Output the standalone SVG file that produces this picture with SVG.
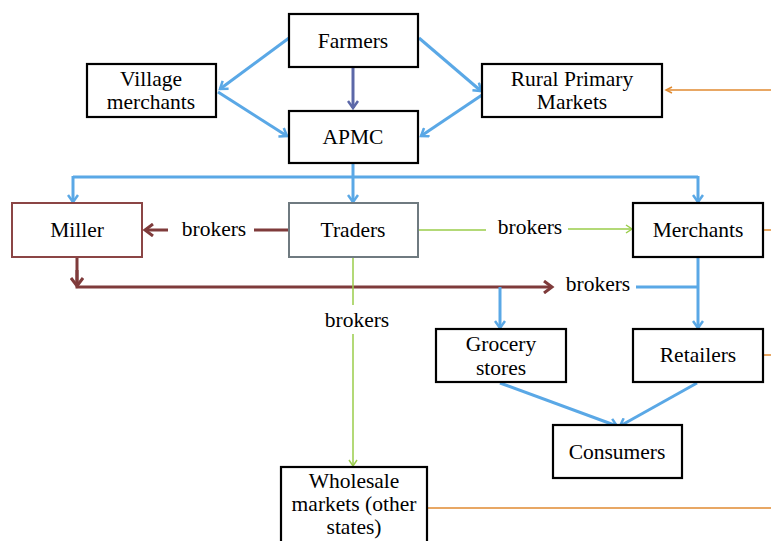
<svg xmlns="http://www.w3.org/2000/svg" width="771" height="541" viewBox="0 0 771 541">
<defs>
<marker id="ab" markerWidth="12" markerHeight="12" refX="9" refY="6" orient="auto" markerUnits="userSpaceOnUse"><path d="M2,1 L9,6 L2,11" fill="none" stroke="#5aa8e6" stroke-width="2.5"/></marker>
<marker id="ap" markerWidth="12" markerHeight="12" refX="9" refY="6" orient="auto" markerUnits="userSpaceOnUse"><path d="M2,1 L9,6 L2,11" fill="none" stroke="#5c68a8" stroke-width="2.5"/></marker>
<marker id="ar" markerWidth="14" markerHeight="14" refX="10" refY="7" orient="auto" markerUnits="userSpaceOnUse"><path d="M2,1 L10,7 L2,13" fill="none" stroke="#7f3b3b" stroke-width="3"/></marker>
<marker id="ag" markerWidth="12" markerHeight="12" refX="9" refY="6" orient="auto" markerUnits="userSpaceOnUse"><path d="M3,2 L9,6 L3,10" fill="none" stroke="#9acd4a" stroke-width="1.5"/></marker>
<marker id="ao" markerWidth="10" markerHeight="10" refX="8" refY="5" orient="auto" markerUnits="userSpaceOnUse"><path d="M2,2 L8,5 L2,8" fill="none" stroke="#e08a30" stroke-width="1.5"/></marker>
</defs>
<style>
.box{fill:#fff;stroke:#000;stroke-width:2.2}
.t{font-family:"Liberation Serif",serif;font-size:21.5px;fill:#000;text-anchor:middle}
.b{fill:none;stroke:#5aa8e6;stroke-width:3}
.r{fill:none;stroke:#7f3b3b;stroke-width:3}
.g{fill:none;stroke:#9acd4a;stroke-width:1.5}
.o{fill:none;stroke:#e08a30;stroke-width:1.5}
</style>
<rect width="771" height="541" fill="#fff"/>
<g id="connectors">
<line class="b" x1="289" y1="38" x2="220" y2="89" marker-end="url(#ab)"/>
<line class="b" x1="218" y1="92" x2="287" y2="136" marker-end="url(#ab)"/>
<line class="b" x1="419" y1="38" x2="481" y2="91" marker-end="url(#ab)"/>
<line class="b" x1="482" y1="95" x2="421" y2="136" marker-end="url(#ab)"/>
<line x1="353" y1="67" x2="353" y2="108" stroke="#5c68a8" stroke-width="3" marker-end="url(#ap)"/>
<line class="b" x1="353" y1="163" x2="353" y2="177"/>
<line class="b" x1="73" y1="177" x2="698" y2="177"/>
<line class="b" x1="73" y1="176" x2="73" y2="202" marker-end="url(#ab)"/>
<line class="b" x1="353" y1="176" x2="353" y2="202" marker-end="url(#ab)"/>
<line class="b" x1="698" y1="176" x2="698" y2="202" marker-end="url(#ab)"/>
<line class="r" x1="289" y1="230" x2="254" y2="230"/>
<line class="r" x1="168" y1="230" x2="145" y2="230" marker-end="url(#ar)"/>
<polyline class="r" points="77,258 77,287 552,287" marker-end="url(#ar)"/>
<line class="r" x1="77" y1="270" x2="77" y2="286" marker-end="url(#ar)"/>
<line class="g" x1="419" y1="230" x2="486" y2="230"/>
<line class="g" x1="568" y1="229" x2="632" y2="229" marker-end="url(#ag)"/>
<line class="g" x1="353" y1="258" x2="353" y2="305"/>
<line class="g" x1="353" y1="334" x2="353" y2="466" marker-end="url(#ag)"/>
<line class="b" x1="636" y1="287" x2="698" y2="287"/>
<line class="b" x1="698" y1="258" x2="698" y2="328" marker-end="url(#ab)"/>
<line class="b" x1="500" y1="287" x2="500" y2="328" marker-end="url(#ab)"/>
<line class="b" x1="500" y1="383" x2="617" y2="426" marker-end="url(#ab)"/>
<line class="b" x1="697" y1="383" x2="620" y2="426" marker-end="url(#ab)"/>
<line class="o" x1="771" y1="90" x2="666" y2="90" marker-end="url(#ao)"/>
<line class="o" x1="763" y1="230" x2="771" y2="230"/>
<line class="o" x1="763" y1="355" x2="771" y2="355"/>
<line class="o" x1="427" y1="508" x2="771" y2="508"/>
</g>
<g id="farmers"><rect class="box" x="289" y="14" width="129" height="53"/><text class="t" x="353" y="48">Farmers</text></g>
<g id="village"><rect class="box" x="87" y="64" width="129" height="53"/><text class="t" x="151" y="86">Village</text><text class="t" x="151" y="109">merchants</text></g>
<g id="rural"><rect class="box" x="482" y="64" width="180" height="53"/><text class="t" x="572" y="86">Rural Primary</text><text class="t" x="572" y="109">Markets</text></g>
<g id="apmc"><rect class="box" x="289" y="111" width="129" height="52"/><text class="t" x="353" y="144">APMC</text></g>
<g id="miller"><rect x="12" y="203" width="130" height="54" fill="#fff" stroke="#8b4545" stroke-width="2"/><text class="t" x="77" y="237">Miller</text></g>
<g id="traders"><rect x="289" y="203" width="129" height="54" fill="#fff" stroke="#6f7a80" stroke-width="2"/><text class="t" x="353" y="237">Traders</text></g>
<g id="merchants"><rect class="box" x="633" y="203" width="130" height="54"/><text class="t" x="698" y="237">Merchants</text></g>
<g id="brokers1"><text class="t" x="214" y="236">brokers</text></g>
<g id="brokers2"><text class="t" x="530" y="234">brokers</text></g>
<g id="brokers3"><text class="t" x="598" y="291">brokers</text></g>
<g id="brokers4"><text class="t" x="357" y="327">brokers</text></g>
<g id="grocery"><rect class="box" x="436" y="329" width="130" height="53"/><text class="t" x="501" y="351">Grocery</text><text class="t" x="501" y="375">stores</text></g>
<g id="retailers"><rect class="box" x="633" y="329" width="130" height="53"/><text class="t" x="698" y="362">Retailers</text></g>
<g id="consumers"><rect class="box" x="553" y="425" width="129" height="53"/><text class="t" x="617" y="459">Consumers</text></g>
<g id="wholesale"><rect class="box" x="281" y="467" width="146" height="80"/><text class="t" x="354" y="488">Wholesale</text><text class="t" x="354" y="511">markets (other</text><text class="t" x="354" y="534">states)</text></g>
</svg>
